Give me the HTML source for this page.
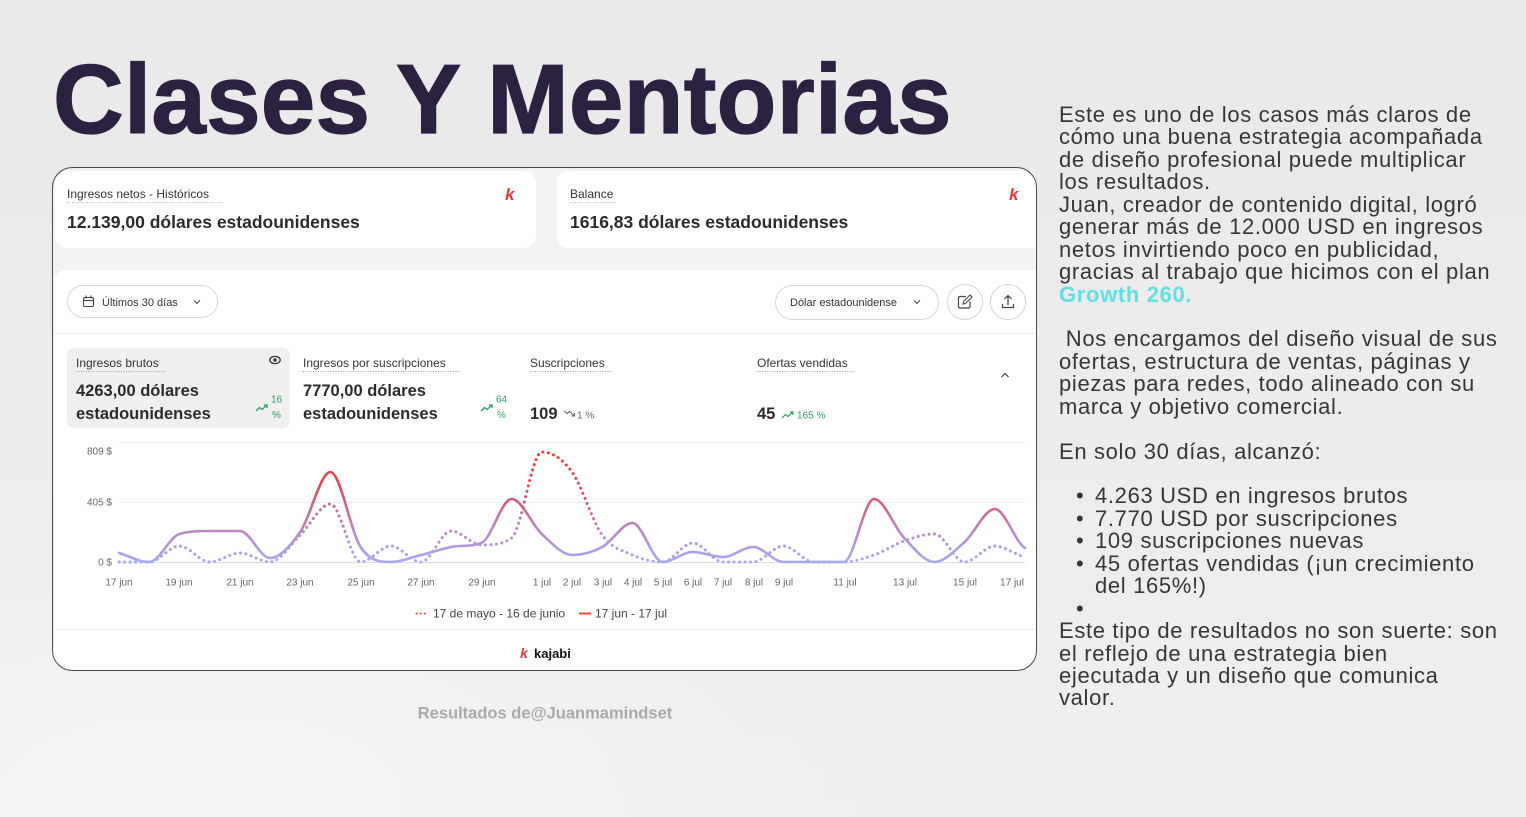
<!DOCTYPE html>
<html lang="es">
<head>
<meta charset="utf-8">
<style>
  html,body{margin:0;padding:0;}
  body{width:1526px;height:817px;overflow:hidden;position:relative;
    background:
      radial-gradient(ellipse 700px 300px at 200px 800px, #f5f5f5 0%, rgba(245,245,245,0) 100%),
      linear-gradient(180deg,#e9e9e9 0%,#ececec 50%,#efefef 100%);
    font-family:"Liberation Sans",Arial,sans-serif;}
  .title{position:absolute;left:53px;top:50px;font-size:98px;line-height:98px;font-weight:bold;
    color:#2d2142;letter-spacing:0.2px;white-space:nowrap;-webkit-text-stroke:1.2px #2d2142;}
  .txt{position:absolute;left:1059px;top:104px;font-size:22px;line-height:22.45px;color:#363636;
    letter-spacing:0.66px;white-space:pre;}
  .txt div{height:22.45px;position:relative;}
  .txt .b{color:#5fe0e6;font-weight:bold;}
  .txt .li{padding-left:36px;}
  .txt .li:before{content:"•";position:absolute;left:17px;top:0;}
  .txt .nb{padding-left:36px;}
  svg{position:absolute;left:0;top:0;}
</style>
</head>
<body>
<div class="title">Clases Y Mentorias</div>

<div class="txt"><div>Este es uno de los casos más claros de</div><div>cómo una buena estrategia acompañada</div><div>de diseño profesional puede multiplicar</div><div>los resultados.</div><div>Juan, creador de contenido digital, logró</div><div>generar más de 12.000 USD en ingresos</div><div>netos invirtiendo poco en publicidad,</div><div>gracias al trabajo que hicimos con el plan</div><div><span class="b">Growth 260.</span></div><div> </div><div> Nos encargamos del diseño visual de sus</div><div>ofertas, estructura de ventas, páginas y</div><div>piezas para redes, todo alineado con su</div><div>marca y objetivo comercial.</div><div> </div><div>En solo 30 días, alcanzó:</div><div> </div><div class="li">4.263 USD en ingresos brutos</div><div class="li">7.770 USD por suscripciones</div><div class="li">109 suscripciones nuevas</div><div class="li">45 ofertas vendidas (¡un crecimiento</div><div class="nb">del 165%!)</div><div class="li"> </div><div>Este tipo de resultados no son suerte: son</div><div>el reflejo de una estrategia bien</div><div>ejecutada y un diseño que comunica</div><div>valor.</div></div>

<svg width="1526" height="817" viewBox="0 0 1526 817" xmlns="http://www.w3.org/2000/svg" font-family="Liberation Sans, Arial, sans-serif">
  <defs>
    <clipPath id="outer"><rect x="52.5" y="167.5" width="984" height="503" rx="20"/></clipPath>
    <linearGradient id="lg" gradientUnits="userSpaceOnUse" x1="0" y1="448" x2="0" y2="562">
      <stop offset="0" stop-color="#ff3a2a"/>
      <stop offset="0.35" stop-color="#e2485a"/>
      <stop offset="0.68" stop-color="#bf80b8"/>
      <stop offset="1" stop-color="#a6a8f8"/>
    </linearGradient>
    <linearGradient id="kg" x1="0" y1="0" x2="1" y2="1">
      <stop offset="0" stop-color="#ff4a2a"/>
      <stop offset="1" stop-color="#d81e4a"/>
    </linearGradient>
  </defs>

  <!-- outer card -->
  <rect x="52.5" y="167.5" width="984" height="503" rx="20" fill="#f3f3f3"/>
  <g clip-path="url(#outer)">
    <rect x="55" y="171" width="481" height="77" rx="12" fill="#ffffff"/>
    <rect x="557" y="171" width="492" height="77" rx="12" fill="#ffffff"/>
    <rect x="54" y="270" width="995" height="420" rx="12" fill="#ffffff"/>
  </g>
  <rect x="52.5" y="167.5" width="984" height="503" rx="20" fill="none" stroke="#4a4a4a" stroke-width="1"/>

  <!-- top card 1 -->
  <text x="67" y="198" font-size="12" fill="#333">Ingresos netos - Históricos</text>
  <line x1="67" y1="202.5" x2="224" y2="202.5" stroke="#b5b5b5" stroke-width="1" stroke-dasharray="1 1.5"/>
  <text x="67" y="228" font-size="17.5" font-weight="bold" fill="#2b2b2b">12.139,00 dólares estadounidenses</text>
  <text x="505" y="200" font-size="17" font-weight="bold" font-style="italic" fill="url(#kg)">k</text>

  <!-- top card 2 -->
  <text x="570" y="198" font-size="12" fill="#333">Balance</text>
  <line x1="570" y1="202.5" x2="617" y2="202.5" stroke="#b5b5b5" stroke-width="1" stroke-dasharray="1 1.5"/>
  <text x="570" y="228" font-size="17.5" font-weight="bold" fill="#2b2b2b">1616,83 dólares estadounidenses</text>
  <text x="1009" y="200" font-size="17" font-weight="bold" font-style="italic" fill="url(#kg)">k</text>

  <!-- controls row -->
  <rect x="67.5" y="285.5" width="150" height="32" rx="16" fill="#fff" stroke="#d4d4d4"/>
  <rect x="83.5" y="297.5" width="10" height="9" rx="1.5" fill="none" stroke="#444" stroke-width="1.1"/>
  <line x1="83.5" y1="300.5" x2="93.5" y2="300.5" stroke="#444" stroke-width="1.1"/>
  <line x1="86" y1="295.5" x2="86" y2="298.5" stroke="#444" stroke-width="1.1"/>
  <line x1="91" y1="295.5" x2="91" y2="298.5" stroke="#444" stroke-width="1.1"/>
  <text x="102" y="306" font-size="11" fill="#333">Últimos 30 días</text>
  <path d="M194 300.5 l3 3 l3 -3" fill="none" stroke="#444" stroke-width="1.1"/>

  <rect x="775.5" y="285.5" width="163" height="34" rx="17" fill="#fff" stroke="#d4d4d4"/>
  <text x="790" y="306" font-size="11" fill="#333">Dólar estadounidense</text>
  <path d="M914 300.5 l3 3 l3 -3" fill="none" stroke="#444" stroke-width="1.1"/>

  <circle cx="965" cy="302" r="17.5" fill="#fff" stroke="#d4d4d4"/>
  <path d="M966 296.5 h-6 a1.5 1.5 0 0 0 -1.5 1.5 v8.5 a1.5 1.5 0 0 0 1.5 1.5 h8.5 a1.5 1.5 0 0 0 1.5 -1.5 v-5" fill="none" stroke="#444" stroke-width="1.2"/>
  <path d="M963 304 l0.5 -2.5 l6.5 -6.5 l2 2 l-6.5 6.5 z" fill="none" stroke="#444" stroke-width="1.1"/>
  <circle cx="1008" cy="302" r="17.5" fill="#fff" stroke="#d4d4d4"/>
  <path d="M1008 305 v-9 M1004.5 299 l3.5 -3.5 l3.5 3.5 M1002.5 304 v3.5 h11 v-3.5" fill="none" stroke="#444" stroke-width="1.2"/>

  <line x1="55" y1="333.5" x2="1036" y2="333.5" stroke="#ededed"/>

  <!-- metric tiles -->
  <rect x="67" y="348" width="223" height="80" rx="7" fill="#efefef"/>
  <text x="76" y="367" font-size="12" fill="#333">Ingresos brutos</text>
  <line x1="76" y1="371.5" x2="166" y2="371.5" stroke="#9a9a9a" stroke-dasharray="1 1.5"/>
  <ellipse cx="275" cy="360" rx="5.2" ry="3.6" fill="none" stroke="#333" stroke-width="1.3"/>
  <circle cx="275" cy="360" r="1.7" fill="#333"/>
  <text x="76" y="396" font-size="16.5" font-weight="bold" fill="#2b2b2b">4263,00 dólares</text>
  <text x="76" y="419" font-size="16.5" font-weight="bold" fill="#2b2b2b">estadounidenses</text>
  <path d="M256 411 l3.5 -3.5 l2.5 2 l5 -4.5 M264 405 h3 v3" fill="none" stroke="#2aa05e" stroke-width="1.3"/>
  <text x="271" y="402.5" font-size="10" fill="#2aa05e">16</text>
  <text x="272" y="418" font-size="10" fill="#2aa05e">%</text>

  <text x="303" y="367" font-size="12" fill="#333">Ingresos por suscripciones</text>
  <line x1="303" y1="371.5" x2="459" y2="371.5" stroke="#9a9a9a" stroke-dasharray="1 1.5"/>
  <text x="303" y="396" font-size="16.5" font-weight="bold" fill="#2b2b2b">7770,00 dólares</text>
  <text x="303" y="419" font-size="16.5" font-weight="bold" fill="#2b2b2b">estadounidenses</text>
  <path d="M481 411 l3.5 -3.5 l2.5 2 l5 -4.5 M489 405 h3 v3" fill="none" stroke="#2aa05e" stroke-width="1.3"/>
  <text x="496" y="402.5" font-size="10" fill="#2aa05e">64</text>
  <text x="497" y="418" font-size="10" fill="#2aa05e">%</text>

  <text x="530" y="367" font-size="12" fill="#333">Suscripciones</text>
  <line x1="530" y1="371.5" x2="611" y2="371.5" stroke="#9a9a9a" stroke-dasharray="1 1.5"/>
  <text x="530" y="419" font-size="16.5" font-weight="bold" fill="#2b2b2b">109</text>
  <path d="M564 411 l3 2.5 l2.5 -2 l4.5 4 M571.5 416 h3 v-3" fill="none" stroke="#666" stroke-width="1.1"/>
  <text x="577" y="418.5" font-size="10" fill="#666">1 %</text>

  <text x="757" y="367" font-size="12" fill="#333">Ofertas vendidas</text>
  <line x1="757" y1="371.5" x2="855" y2="371.5" stroke="#9a9a9a" stroke-dasharray="1 1.5"/>
  <text x="757" y="419" font-size="16.5" font-weight="bold" fill="#2b2b2b">45</text>
  <path d="M782 418 l3.5 -3.5 l2.5 2 l5 -4.5 M790 412 h3 v3" fill="none" stroke="#2aa05e" stroke-width="1.2"/>
  <text x="797" y="418.5" font-size="10" fill="#2aa05e">165 %</text>

  <path d="M1001.5 377 l3.5 -3.5 l3.5 3.5" fill="none" stroke="#444" stroke-width="1.2"/>

  <!-- chart grid -->
  <line x1="119" y1="442.5" x2="1025" y2="442.5" stroke="#f0f0f0"/>
  <line x1="119" y1="502.5" x2="1025" y2="502.5" stroke="#eeeeee"/>
  <line x1="119" y1="562.5" x2="1025" y2="562.5" stroke="#dedede"/>
  <g font-size="10" fill="#666" text-anchor="end">
    <text x="112" y="454.5">809 $</text>
    <text x="112" y="505.5">405 $</text>
    <text x="112" y="565.5">0 $</text>
  </g>
  <g font-size="10" fill="#666" text-anchor="middle">
    <text x="119" y="585.5">17 jun</text>
    <text x="179" y="585.5">19 jun</text>
    <text x="240" y="585.5">21 jun</text>
    <text x="300" y="585.5">23 jun</text>
    <text x="361" y="585.5">25 jun</text>
    <text x="421" y="585.5">27 jun</text>
    <text x="482" y="585.5">29 jun</text>
    <text x="542" y="585.5">1 jul</text>
    <text x="572" y="585.5">2 jul</text>
    <text x="603" y="585.5">3 jul</text>
    <text x="633" y="585.5">4 jul</text>
    <text x="663" y="585.5">5 jul</text>
    <text x="693" y="585.5">6 jul</text>
    <text x="723" y="585.5">7 jul</text>
    <text x="754" y="585.5">8 jul</text>
    <text x="784" y="585.5">9 jul</text>
    <text x="845" y="585.5">11 jul</text>
    <text x="905" y="585.5">13 jul</text>
    <text x="965" y="585.5">15 jul</text>
    <text x="1012" y="585.5">17 jul</text>
  </g>

  <!-- previous period (dotted) -->
  <path fill="none" stroke="url(#lg)" stroke-width="3" stroke-linecap="round" stroke-dasharray="0.1 5.4"
    d="M119 562 C129 562,139.2 562,149.2 562 S169.4 546,179.4 546 S199.6 562,209.6 562 S229.8 553,239.8 553 S260 562,270 562 S290.2 544.7,300.2 535 S320.4 504,330.4 504 S350.6 562,360.6 562 S380.8 546,390.8 546 S411 562,421 562 S441.2 531,451.2 531 S471.4 545,481.4 545 S501.6 545,511.6 538 S531.8 452,541.8 452 S562 458.2,572 472 S592.2 521.2,602.2 535 S622.4 550.5,632.4 555 S652.6 562,662.6 562 S682.8 543,692.8 543 S713 562,723 562 S743.2 562,753.2 562 S773.4 546,783.4 546 S803.6 562,813.6 562 S833.8 562,843.8 562 S864 558.5,874 555 S894.2 544.5,904.2 541 S924.4 534,934.4 534 S954.6 562,964.6 562 S984.8 546,994.8 546 S1015 555,1025 557"/>

  <!-- current period (solid) -->
  <path fill="none" stroke="url(#lg)" stroke-width="2.6" stroke-linecap="round" stroke-linejoin="round"
    d="M119 553 C129 556,139.2 562,149.2 562 S169.4 537,179.4 534 S199.6 531,209.6 531 S229.8 531,239.8 531 S260 558,270 558 S290.2 546.3,300.2 532 S320.4 472,330.4 472 S350.6 532,360.6 547 S380.8 562,390.8 562 S411 557.5,421 555 S441.2 549,451.2 547 S471.4 547,481.4 543 S501.6 499,511.6 499 S531.8 524.7,541.8 534 S562 555,572 555 S592.2 552.3,602.2 547 S622.4 523,632.4 523 S652.6 562,662.6 562 S682.8 552,692.8 552 S713 557,723 557 S743.2 547,753.2 547 S773.4 562,783.4 562 S803.6 562,813.6 562 S833.8 562,843.8 562 S864 499,874 499 S894.2 527.5,904.2 538 S924.4 562,934.4 562 S954.6 550.8,964.6 542 S984.8 509,994.8 509 S1015 542,1025 548"/>

  <!-- legend -->
  <line x1="416.5" y1="613.5" x2="427" y2="613.5" stroke="#f0483a" stroke-width="2" stroke-linecap="round" stroke-dasharray="0.1 4"/>
  <text x="433" y="617.5" font-size="12" fill="#444">17 de mayo - 16 de junio</text>
  <line x1="579" y1="613.5" x2="591" y2="613.5" stroke="#f0483a" stroke-width="2"/>
  <text x="595" y="617.5" font-size="12" fill="#444">17 jun - 17 jul</text>

  <line x1="55" y1="629.5" x2="1036" y2="629.5" stroke="#ededed"/>

  <!-- footer logo -->
  <text x="520" y="658" font-size="14" font-weight="bold" font-style="italic" fill="url(#kg)">k</text>
  <text x="534" y="658" font-size="13" font-weight="bold" fill="#111">kajabi</text>

  <!-- caption -->
  <text x="545" y="718.5" font-size="16.5" font-weight="bold" fill="#aaaaaa" text-anchor="middle">Resultados de@Juanmamindset</text>
</svg>
</body>
</html>
